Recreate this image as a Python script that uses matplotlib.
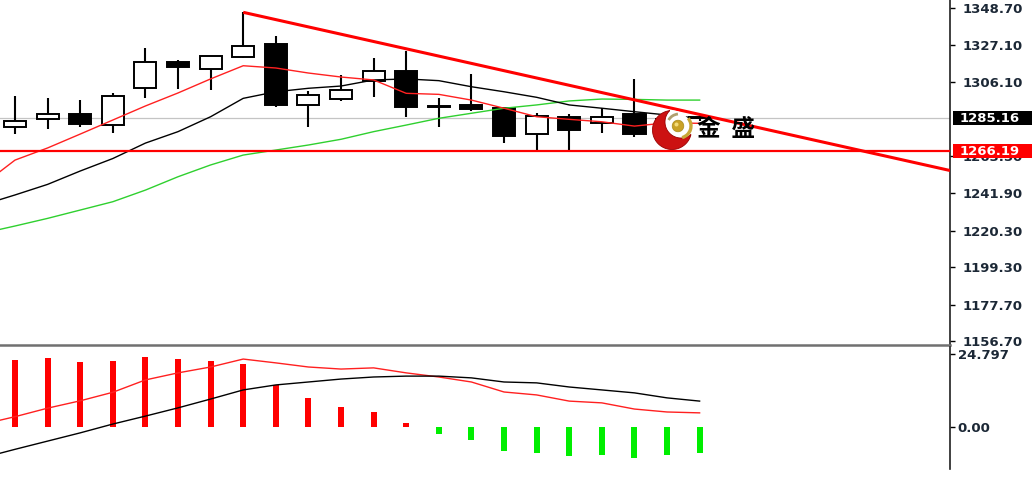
import numpy as np
import matplotlib
matplotlib.use("Agg")
import matplotlib.pyplot as plt
from matplotlib.patches import Rectangle, Polygon, Circle, Arc

plt.rcParams['font.family'] = ['DejaVu Sans']

# ---------------- data ----------------
opens = [1280.25, 1284.5, 1287.6, 1281.05, 1302.4, 1317.4, 1313.35, 1320.6, 1327.9, 1292.75, 1296.05,
         1306.4, 1312.4, 1292.0, 1292.75, 1290.85, 1275.9, 1285.7, 1282.55, 1287.4, 1277.0, 1285.5]
closes = [1283.7, 1287.4, 1281.8, 1297.95, 1317.4, 1314.85, 1321.2, 1326.95, 1292.75, 1298.5, 1301.4,
          1312.4, 1291.8, 1291.4, 1290.3, 1275.05, 1286.4, 1278.35, 1286.0, 1275.9, 1284.6, 1285.16]
highs = [1297.95, 1296.6, 1295.6, 1299.9, 1325.8, 1318.7, 1321.2, 1346.2, 1332.55, 1301.0, 1310.0,
         1320.0, 1323.9, 1296.6, 1310.45, 1290.85, 1288.0, 1287.4, 1290.85, 1307.9, 1289.0, 1287.5]
lows = [1275.9, 1278.9, 1280.2, 1276.4, 1297.0, 1302.0, 1301.4, 1319.7, 1291.4, 1280.2, 1294.9,
        1297.55, 1286.0, 1280.2, 1289.5, 1270.7, 1265.8, 1265.8, 1276.4, 1274.5, 1275.0, 1283.5]

# moving averages (first value is the bar before the visible window)
ma_fast = [1246.6, 1261.0, 1268.0, 1276.0, 1284.1, 1292.2, 1299.7, 1307.8, 1315.4, 1314.1, 1311.2, 1308.9,
           1307.2, 1299.5, 1298.9, 1295.6, 1290.9, 1286.0, 1284.5, 1283.1, 1280.6, 1282.5, 1282.2]
ma_mid = [1235.1, 1240.9, 1247.0, 1254.7, 1261.9, 1270.8, 1277.4, 1286.0, 1296.6, 1300.4, 1302.4, 1303.7,
          1307.2, 1307.8, 1306.8, 1303.3, 1300.4, 1297.2, 1292.8, 1290.9, 1288.9, 1287.0, 1285.1]
ma_slow = [1218.8, 1223.0, 1227.4, 1232.2, 1237.0, 1243.7, 1251.4, 1258.2, 1263.9, 1266.8, 1269.7, 1273.0,
           1277.4, 1281.2, 1285.1, 1288.0, 1290.9, 1292.8, 1295.1, 1296.2, 1296.0, 1295.6, 1295.6]

macd_hist = [22.8, 23.6, 22.0, 22.4, 23.9, 23.1, 22.4, 21.3, 14.3, 9.8, 6.9, 5.2, 1.2, -2.4, -4.4,
             -8.1, -8.7, -9.9, -9.5, -10.6, -9.5, -8.7]
macd_red = [0.9, 3.5, 6.4, 8.9, 11.8, 16.0, 18.4, 20.4, 23.1, 21.8, 20.4, 19.7, 20.1, 18.4, 17.0, 15.3,
            11.9, 10.9, 8.8, 8.2, 6.1, 5.1, 4.8]
macd_black = [-10.5, -7.6, -4.8, -2.0, 1.0, 3.7, 6.5, 9.5, 12.6, 14.3, 15.3, 16.3, 17.0, 17.3, 17.3, 16.7,
              15.3, 15.0, 13.6, 12.6, 11.6, 9.9, 8.8]

price_ticks = [1348.70, 1327.10, 1306.10, 1263.50, 1241.90, 1220.30, 1199.30, 1177.70, 1156.70]
current_price = 1285.16
support_level = 1266.19
trend_x = [7, 28.68]
trend_y = [1346.2, 1255.0]
macd_top = 24.797
logo_text = "金  盛"

# ---------------- figure ----------------
W, H = 1035, 479
fig = plt.figure(figsize=(W / 100, H / 100), dpi=100)
fig.patch.set_facecolor('white')

XL = (-0.46, 28.68)
ax1 = fig.add_axes([0, 1 - 345 / H, 950 / W, 345 / H])
ax2 = fig.add_axes([0, 1 - 469 / H, 950 / W, (469 - 347) / H])

n = len(opens)
xi = np.arange(n)
xm = np.arange(-1, n)

# candles
bw = 0.68
for i in range(n):
    o, c, h, l = opens[i], closes[i], highs[i], lows[i]
    ax1.plot([i, i], [l, h], color='black', lw=1.5, zorder=2, solid_capstyle='butt')
    bottom = min(o, c)
    height = max(abs(c - o), 0.8)
    fc = 'white' if c >= o else 'black'
    ax1.add_patch(Rectangle((i - bw / 2, bottom), bw, height, facecolor=fc,
                            edgecolor='black', lw=1.4, zorder=3))

ax1.plot(xm, ma_slow, color='#2fd02f', lw=1.0, zorder=4)
ax1.plot(xm, ma_mid, color='black', lw=1.0, zorder=4)
ax1.plot(xm, ma_fast, color='#ff2020', lw=1.0, zorder=4)

ax1.axhline(current_price, color='#c4c4c4', lw=0.9, zorder=1)
ax1.axhline(support_level, color='#ff0000', lw=1.6, zorder=5)
ax1.plot(trend_x, trend_y, color='#ff0000', lw=2.2, zorder=5, solid_capstyle='butt')

ax1.set_xlim(*XL)
ax1.set_ylim(1154.4, 1353.3)
ax1.set_xticks([])
ax1.yaxis.tick_right()
ax1.set_yticks(price_ticks)
ax1.set_yticklabels(['%.2f' % v for v in price_ticks])
ax1.tick_params(axis='y', direction='out', length=3.5, width=1, pad=5.5,
                labelsize=9.5, labelcolor='#1c2836')
for t in ax1.get_yticklabels():
    t.set_fontweight('bold')
for s in ['left', 'top']:
    ax1.spines[s].set_visible(False)
ax1.spines['right'].set_color('#202020')
ax1.spines['right'].set_linewidth(1.2)
ax1.spines['bottom'].set_color('#707070')
ax1.spines['bottom'].set_linewidth(1.8)

# MACD panel
cols = ['#ff0000' if v >= 0 else '#00ee00' for v in macd_hist]
ax2.bar(xi, macd_hist, width=0.185, color=cols, zorder=2)
ax2.plot(xm, macd_red, color='#ff2020', lw=1.0, zorder=3)
ax2.plot(xm, macd_black, color='black', lw=1.0, zorder=3)
ax2.set_xlim(*XL)
ax2.set_ylim(-14.29, 27.2)
ax2.set_xticks([])
ax2.yaxis.tick_right()
ax2.set_yticks([0, macd_top])
ax2.set_yticklabels(['0.00', '%.3f' % macd_top])
ax2.tick_params(axis='y', direction='out', length=3.5, width=1, pad=2,
                labelsize=9.5, labelcolor='#1c2836')
for t in ax2.get_yticklabels():
    t.set_fontweight('bold')
for s in ['left', 'top', 'bottom']:
    ax2.spines[s].set_visible(False)
ax2.spines['right'].set_color('#202020')
ax2.spines['right'].set_linewidth(1.2)

# ---------------- overlay (pixel coords) ----------------
ov = fig.add_axes([0, 0, 1, 1])
ov.set_xlim(0, W)
ov.set_ylim(0, H)
ov.axis('off')
ov.patch.set_visible(False)

fig.canvas.draw()


def ypix(ax, v):
    return ax.transData.transform((0, v))[1]


for val, bg in [(current_price, 'black'), (support_level, '#ff0000')]:
    yp = ypix(ax1, val)
    ov.add_patch(Rectangle((953, yp - 7), 79, 14, facecolor=bg, edgecolor='none', zorder=10))
    ov.text(960, yp, '%.2f' % val, color='white', fontsize=9.5, fontweight='bold',
            va='center', ha='left', zorder=11)

# logo
cx, cy, R = 672, H - 130, 19.5
ix, iy, r = 681, H - 122, 16.0
ov.add_patch(Circle((cx, cy), R, facecolor='white', edgecolor='none', zorder=8))
d = np.hypot(ix - cx, iy - cy)
phi = np.arctan2(iy - cy, ix - cx)
alpha = np.arccos((R ** 2 + d ** 2 - r ** 2) / (2 * R * d))
beta = np.arccos((r ** 2 + d ** 2 - R ** 2) / (2 * r * d))
t_out = np.linspace(phi + alpha, phi + 2 * np.pi - alpha, 120)
outer = np.c_[cx + R * np.cos(t_out), cy + R * np.sin(t_out)]
t_in = np.linspace(phi + np.pi - beta, phi + np.pi + beta, 80)
inner = np.c_[ix + r * np.cos(t_in), iy + r * np.sin(t_in)]
if np.hypot(*(inner[0] - outer[-1])) > np.hypot(*(inner[-1] - outer[-1])):
    inner = inner[::-1]
ov.add_patch(Polygon(np.vstack([outer, inner]), closed=True, facecolor='#cc1212',
                     edgecolor='#9a0000', lw=0.6, zorder=9))
ov.add_patch(Arc((679, H - 126), 24, 24, theta1=-75, theta2=40, color='#c8a838', lw=2.4, zorder=9))
ov.add_patch(Arc((679, H - 126), 24, 24, theta1=95, theta2=150, color='#b0a070', lw=2.0, zorder=9))
ov.add_patch(Circle((678, H - 126), 5.8, facecolor='#c9a227', edgecolor='#a88a1a', lw=0.5, zorder=10))
ov.add_patch(Circle((676.5, H - 124.5), 2.0, facecolor='#f3dc7a', edgecolor='none', zorder=11))
ov.text(697, H - 129, logo_text, fontsize=17, fontweight='bold',
        family=['Noto Sans CJK SC', 'DejaVu Sans'],
        color='black', va='center', ha='left', zorder=11)

fig.savefig('out.png', dpi=100, facecolor='white')
